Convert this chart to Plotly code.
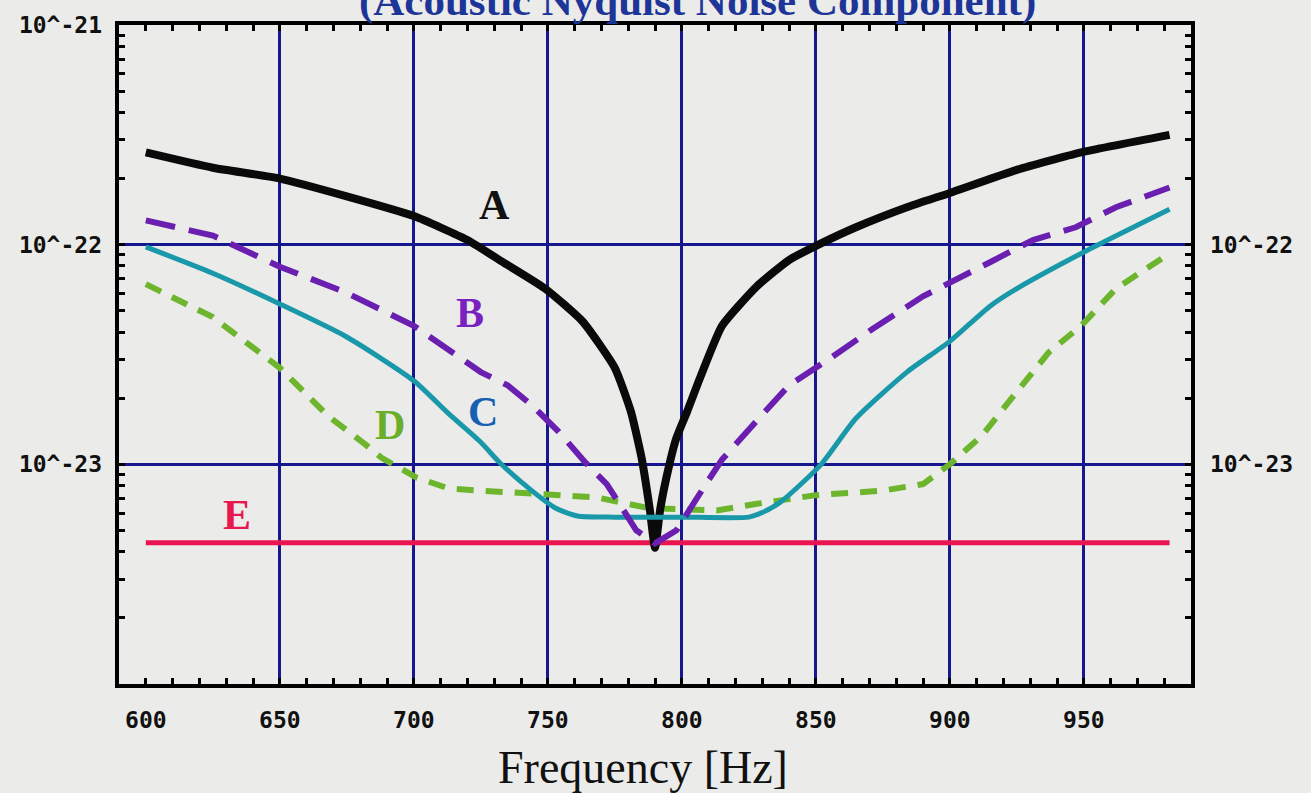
import plotly.graph_objects as go

# ---------------- data ----------------
freq_a = [600, 625, 650, 675, 700, 720, 732, 749, 763, 775, 781, 785, 788, 790,
          792, 795, 798, 802, 807, 815, 828, 840, 851, 865, 884, 900, 925, 949, 982]
val_a = [2.63e-22, 2.24e-22, 2.00e-22, 1.66e-22, 1.35e-22, 1.05e-22, 8.51e-23,
         6.31e-23, 4.47e-23, 2.75e-23, 1.74e-23, 1.07e-23, 6.31e-24, 4.17e-24,
         6.31e-24, 9.55e-24, 1.32e-23, 1.74e-23, 2.51e-23, 4.27e-23, 6.46e-23,
         8.51e-23, 1.00e-22, 1.20e-22, 1.48e-22, 1.72e-22, 2.19e-22, 2.63e-22, 3.16e-22]

freq_b = [600, 625, 650, 675, 700, 725, 735, 744, 754, 764, 772, 783, 790, 798,
          809, 815, 828, 840, 855, 871, 890, 901, 915, 931, 947, 962, 982]
val_b = [1.29e-22, 1.10e-22, 7.94e-23, 6.03e-23, 4.27e-23, 2.63e-23, 2.29e-23,
         1.86e-23, 1.41e-23, 1.02e-23, 8.13e-24, 5.01e-24, 4.37e-24, 5.01e-24,
         8.13e-24, 1.05e-23, 1.58e-23, 2.29e-23, 3.02e-23, 4.12e-23, 5.82e-23,
         6.76e-23, 8.32e-23, 1.05e-22, 1.20e-22, 1.48e-22, 1.82e-22]

freq_c = [600, 625, 650, 675, 700, 713, 725, 732, 744, 753, 761, 775, 800, 825,
          830, 837, 852, 865, 884, 900, 915, 925, 949, 982]
val_c = [9.77e-23, 7.41e-23, 5.37e-23, 3.80e-23, 2.40e-23, 1.70e-23, 1.26e-23,
         1.02e-23, 7.59e-24, 6.31e-24, 5.82e-24, 5.75e-24, 5.75e-24, 5.75e-24,
         6.03e-24, 6.76e-24, 1.00e-23, 1.62e-23, 2.63e-23, 3.63e-23, 5.25e-23,
         6.31e-23, 9.12e-23, 1.45e-22]

freq_d = [600, 625, 650, 668, 682, 688, 701, 713, 725, 750, 768, 788, 813, 828,
          850, 875, 890, 900, 912, 925, 937, 949, 962, 982]
val_d = [6.61e-23, 4.68e-23, 2.75e-23, 1.66e-23, 1.23e-23, 1.07e-23, 8.71e-24,
         7.76e-24, 7.59e-24, 7.24e-24, 7.08e-24, 6.31e-24, 6.17e-24, 6.61e-24,
         7.24e-24, 7.59e-24, 8.13e-24, 1.00e-23, 1.35e-23, 2.14e-23, 3.24e-23,
         4.27e-23, 6.31e-23, 9.12e-23]

freq_e = [600, 982]
val_e = [4.40e-24, 4.40e-24]

x_major = [650, 700, 750, 800, 850, 900, 950]
x_ticks = list(range(600, 990, 10))

y_major = [1e-21, 1e-22, 1e-23]
y_left_labels = ["10^-21", "10^-22", "10^-23"]
y_right_vals = [1e-22, 1e-23]
y_right_labels = ["10^-22", "10^-23"]
y_minor = [m * 10.0 ** e for e in (-24, -23, -22) for m in range(1, 10)] + [1e-21]

# curve labels: (text, freq, log10 value, colour)
labels = [("A", 730, -21.82, "#111111"),
          ("B", 721, -22.31, "#7a22c0"),
          ("C", 726, -22.76, "#1660b4"),
          ("D", 691, -22.82, "#6aae2a"),
          ("E", 634, -23.23, "#e8174f")]

title_text = "(Acoustic Nyquist Noise Component)"
x_title = "Frequency [Hz]"

# ---------------- styles ----------------
BG = "#ebebe9"
GRID = "#16168e"
TICKFONT = dict(family="DejaVu Sans Mono", size=23, color="#111111", weight="bold")

fig = go.Figure()
fig.add_trace(go.Scatter(x=freq_e, y=val_e, mode="lines", xaxis="x", yaxis="y",
                         line=dict(color="#ea1550", width=5)))
fig.add_trace(go.Scatter(x=freq_d, y=val_d, mode="lines", xaxis="x", yaxis="y",
                         line=dict(color="#6cb52c", width=6, dash="17px,12px")))
fig.add_trace(go.Scatter(x=freq_c, y=val_c, mode="lines", xaxis="x", yaxis="y3",
                         line=dict(color="#1898a8", width=5, shape="spline", smoothing=0.6)))
fig.add_trace(go.Scatter(x=freq_b, y=val_b, mode="lines", xaxis="x2", yaxis="y2",
                         line=dict(color="#6a1fb0", width=6, dash="30px,14px")))
fig.add_trace(go.Scatter(x=freq_a, y=val_a, mode="lines", xaxis="x", yaxis="y",
                         line=dict(color="#0a0a0a", width=8, shape="spline", smoothing=0.5)))

annotations = []
for t, fx, ly, col in labels:
    annotations.append(dict(text="<b>%s</b>" % t, x=fx, y=ly, xref="x", yref="y",
                            showarrow=False,
                            font=dict(family="Liberation Serif", size=42, color=col)))
annotations.append(dict(text="<b>%s</b>" % title_text, x=0.54, y=1.0, xref="paper",
                        yref="paper", xanchor="center", yanchor="bottom", yshift=-2,
                        showarrow=False,
                        font=dict(family="Liberation Serif", size=43, color="#1d3598")))
annotations.append(dict(text=x_title, x=0.489, y=-0.127, xref="paper", yref="paper",
                        xanchor="center", yanchor="middle", showarrow=False,
                        font=dict(family="Liberation Serif", size=46, color="#111111")))

xr = [590, 990]
yr = [-24, -21]

fig.update_layout(
    width=1311, height=793,
    paper_bgcolor=BG, plot_bgcolor=BG,
    margin=dict(l=119, r=120, t=22, b=109),
    showlegend=False,
    annotations=annotations,
    xaxis=dict(range=xr, tickvals=x_major, showticklabels=False, ticks="",
               showgrid=True, gridcolor=GRID, gridwidth=2.5, zeroline=False,
               showline=True, linecolor="#000000", linewidth=4, mirror=True),
    xaxis2=dict(range=xr, overlaying="x", anchor="y", side="bottom",
                tickvals=x_ticks,
                ticktext=[str(v) if v % 50 == 0 else "" for v in x_ticks],
                ticks="inside", ticklen=6, tickwidth=3, tickcolor="#000000",
                mirror="ticks", showgrid=False, zeroline=False, showline=False,
                tickfont=TICKFONT, ticklabelstandoff=20),
    yaxis=dict(type="log", range=yr, tickvals=y_major, showticklabels=False, ticks="",
               showgrid=True, gridcolor=GRID, gridwidth=2.5, zeroline=False,
               showline=True, linecolor="#000000", linewidth=4, mirror=True),
    yaxis2=dict(type="log", range=yr, overlaying="y", anchor="x", side="left",
                tickvals=y_minor,
                ticktext=[dict(zip(y_major, y_left_labels)).get(v, "") for v in y_minor],
                ticks="inside", ticklen=6, tickwidth=3, tickcolor="#000000",
                mirror="ticks", showgrid=False, zeroline=False, showline=False,
                tickfont=TICKFONT, ticklabelstandoff=16),
    yaxis3=dict(type="log", range=yr, overlaying="y", anchor="x", side="right",
                tickvals=y_right_vals, ticktext=y_right_labels, ticks="",
                showgrid=False, zeroline=False, showline=False,
                tickfont=TICKFONT, ticklabelstandoff=18),
)

fig.write_html("out.html")
